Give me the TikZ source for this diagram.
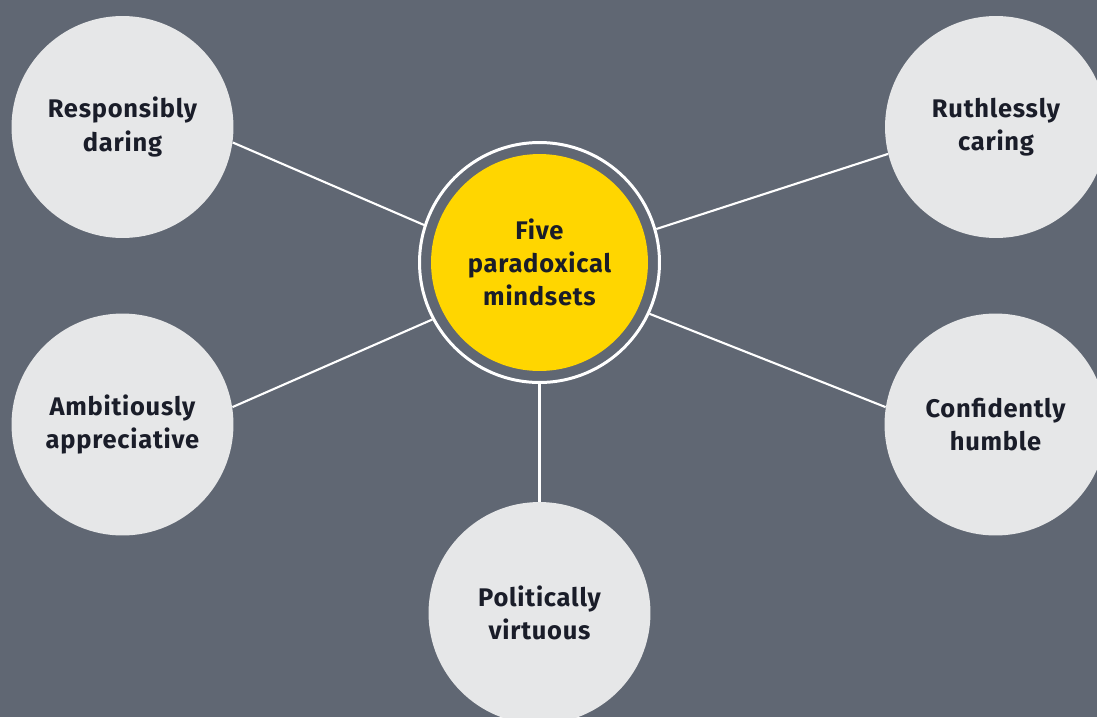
\documentclass[tikz,border=0pt]{standalone}
\usepackage{fontspec}
\setmainfont{Fira Sans}
\newfontfamily\labelfont[LetterSpace=3]{Fira Sans}
\usepackage{xcolor}
\usepackage{tikz}
\usetikzlibrary{positioning}
\definecolor{slate}{RGB}{96, 103, 115}
\definecolor{cloud}{RGB}{230, 231, 232}
\definecolor{sunny}{RGB}{255, 214, 0}
\definecolor{inkdark}{RGB}{26, 29, 41}

\tikzset{
  mindset/.style={circle, fill=cloud, minimum size=4.44cm, inner sep=0pt,
    align=center, text=inkdark, font=\labelfont\bfseries\fontsize{14.5}{18.8}\selectfont},
  core/.style={circle, fill=sunny, minimum size=4.34cm, inner sep=0pt,
    align=center, text=inkdark, font=\labelfont\bfseries\fontsize{14.5}{18.8}\selectfont},
  halo/.style={circle, draw=white, line width=1.7pt, minimum size=4.8cm, inner sep=0pt},
  spoke/.style={draw=white, line width=1.2pt}
}

\begin{document}
\begin{tikzpicture}[x=0.02cm, y=-0.02cm]
    \useasboundingbox (0,0) rectangle (1097,717);
    \fill[slate] (0,0) rectangle (1097,717);

    % centre
    \node[core] (core) at (539.5,262.5) {Five\\paradoxical\\mindsets};
    \node[halo] (halo) at (core) {};

    % the five mindsets
    \node[mindset] (daring) at (122.5,127) {Responsibly\\daring};
    \node[mindset] (caring) at (996,127) {Ruthlessly\\caring};
    \node[mindset] (apprec) at (122.5,424.5) {Ambitiously\\appreciative};
    \node[mindset] (humble) at (995.5,424.5) {Confidently\\humble};
    \node[mindset] (virtue) at (539.5,613) {Politically\\virtuous};

    % spokes
    \draw[spoke] (daring.-8) -- (halo.162);
    \draw[spoke] (caring.194) -- (halo.16.6);
    \draw[spoke] (apprec.9.5) -- (halo.208);
    \draw[spoke] (humble.171) -- (halo.-25.4);
    \draw[spoke] (virtue.north) -- (halo.south);
\end{tikzpicture}
\end{document}
